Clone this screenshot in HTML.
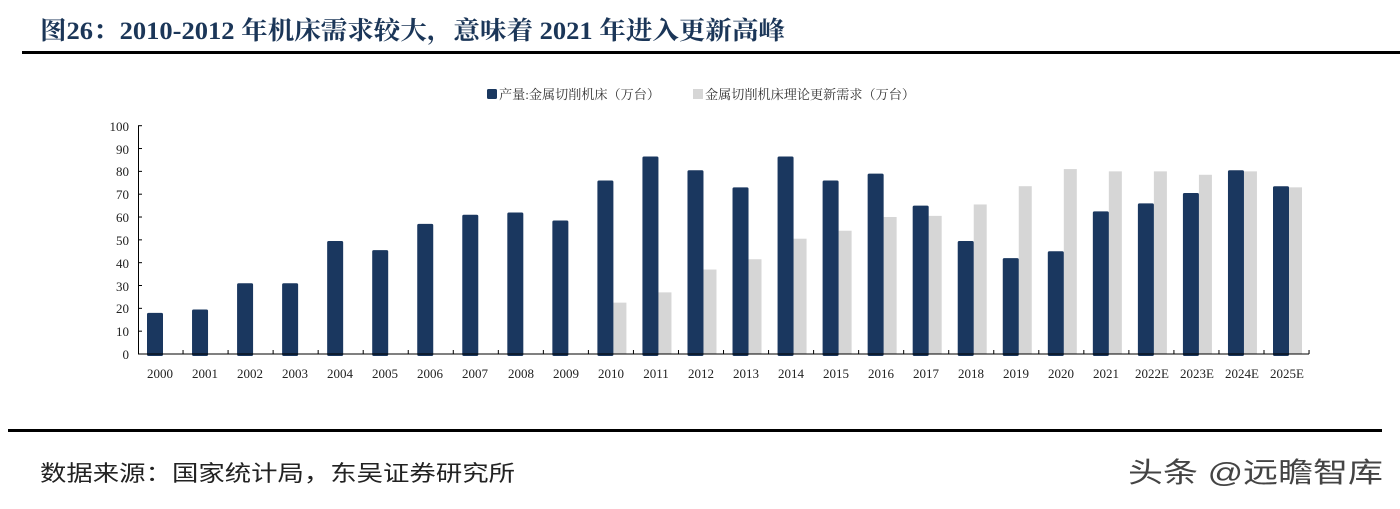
<!DOCTYPE html>
<html><head><meta charset="utf-8"><style>
body{margin:0;background:#fff;width:1400px;height:504px;overflow:hidden}
</style></head><body>
<svg id="s" width="1400" height="504" xmlns="http://www.w3.org/2000/svg">
<text x="40" y="39" textLength="745" lengthAdjust="spacingAndGlyphs" font-family="'Liberation Serif','Noto Serif CJK SC',serif" font-weight="bold" font-size="25" fill="#1b3658">图26：2010-2012 年机床需求较大，意味着 2021 年进入更新高峰</text>
<rect x="22" y="51" width="1378" height="3" fill="#000"/>
<rect x="8" y="429" width="1374" height="3" fill="#000"/>
<rect x="487" y="89" width="10" height="10" rx="1.5" fill="#1a375f"/>
<text x="499" y="99" textLength="161" lengthAdjust="spacingAndGlyphs" font-family="'Liberation Serif','Noto Serif CJK SC',serif" font-size="13" fill="#333">产量:金属切削机床（万台）</text>
<rect x="693" y="89" width="10" height="10" fill="#d6d6d6"/>
<text x="705" y="99" textLength="210" lengthAdjust="spacingAndGlyphs" font-family="'Liberation Serif','Noto Serif CJK SC',serif" font-size="13" fill="#333">金属切削机床理论更新需求（万台）</text>
<g font-family="'Liberation Serif',serif" font-size="13" fill="#222" text-anchor="end">
<text x="129" y="131">100</text><text x="129" y="154">90</text><text x="129" y="176">80</text><text x="129" y="199">70</text><text x="129" y="222">60</text><text x="129" y="245">50</text><text x="129" y="268">40</text><text x="129" y="291">30</text><text x="129" y="313">20</text><text x="129" y="336">10</text><text x="129" y="359">0</text>
</g>
<g id="bars"></g>
<g id="ax" stroke="#000" stroke-width="1"></g>
<g font-family="'Liberation Serif',serif" font-size="13" fill="#222" text-anchor="middle">
<text x="160" y="378">2000</text><text x="205" y="378">2001</text><text x="250" y="378">2002</text><text x="295" y="378">2003</text><text x="340" y="378">2004</text><text x="385" y="378">2005</text><text x="430" y="378">2006</text><text x="475" y="378">2007</text><text x="521" y="378">2008</text><text x="566" y="378">2009</text><text x="611" y="378">2010</text><text x="656" y="378">2011</text><text x="701" y="378">2012</text><text x="746" y="378">2013</text><text x="791" y="378">2014</text><text x="836" y="378">2015</text><text x="881" y="378">2016</text><text x="926" y="378">2017</text><text x="971" y="378">2018</text><text x="1016" y="378">2019</text><text x="1061" y="378">2020</text><text x="1106" y="378">2021</text><text x="1152" y="378">2022E</text><text x="1197" y="378">2023E</text><text x="1242" y="378">2024E</text><text x="1287" y="378">2025E</text>
</g>
<text x="40" y="481" textLength="475" lengthAdjust="spacingAndGlyphs" font-family="'Liberation Sans','Noto Sans CJK SC',sans-serif" font-size="22" fill="#222">数据来源：国家统计局，东吴证券研究所</text>
<text x="1128" y="482" textLength="255" lengthAdjust="spacingAndGlyphs" font-family="'Liberation Sans','Noto Sans CJK SC',sans-serif" font-size="28" fill="#444">头条 @远瞻智库</text>
</svg>
<script>
var d=[18,19.5,31,31,49.5,45.5,57,61,62,58.5,76,86.5,80.5,73,86.5,76,79,65,49.5,42,45,62.5,66,70.5,80.5,73.5];
var l=[0,0,0,0,0,0,0,0,0,0,22.5,27,37,41.5,50.5,54,60,60.5,65.5,73.5,81,80,80,78.5,80,73];
var ns="http://www.w3.org/2000/svg",g=document.getElementById('bars'),a=document.getElementById('ax');
function r(x,y,w,h,f,rx){var e=document.createElementNS(ns,'rect');e.setAttribute('x',x);e.setAttribute('y',y);e.setAttribute('width',w);e.setAttribute('height',h);e.setAttribute('fill',f);if(rx)e.setAttribute('rx',rx);g.appendChild(e);}
function ln(x1,y1,x2,y2){var e=document.createElementNS(ns,'line');e.setAttribute('x1',x1);e.setAttribute('y1',y1);e.setAttribute('x2',x2);e.setAttribute('y2',y2);a.appendChild(e);}
var k=2.283,b=354,cw=45.04;
for(var i=0;i<26;i++){var s=138+cw*i;
if(l[i]){r(s+25,b-l[i]*k,13,l[i]*k,'#d6d6d6');}
r(s+9,b-d[i]*k,16,d[i]*k+2,'#1a375f',1.5);
ln(s+cw,b,s+cw,b-4);}
ln(138,b,1309,b);ln(138.5,126,138.5,b);
for(var j=0;j<=10;j++){ln(138,b-j*22.83,142,b-j*22.83);}
</script>
</body></html>
